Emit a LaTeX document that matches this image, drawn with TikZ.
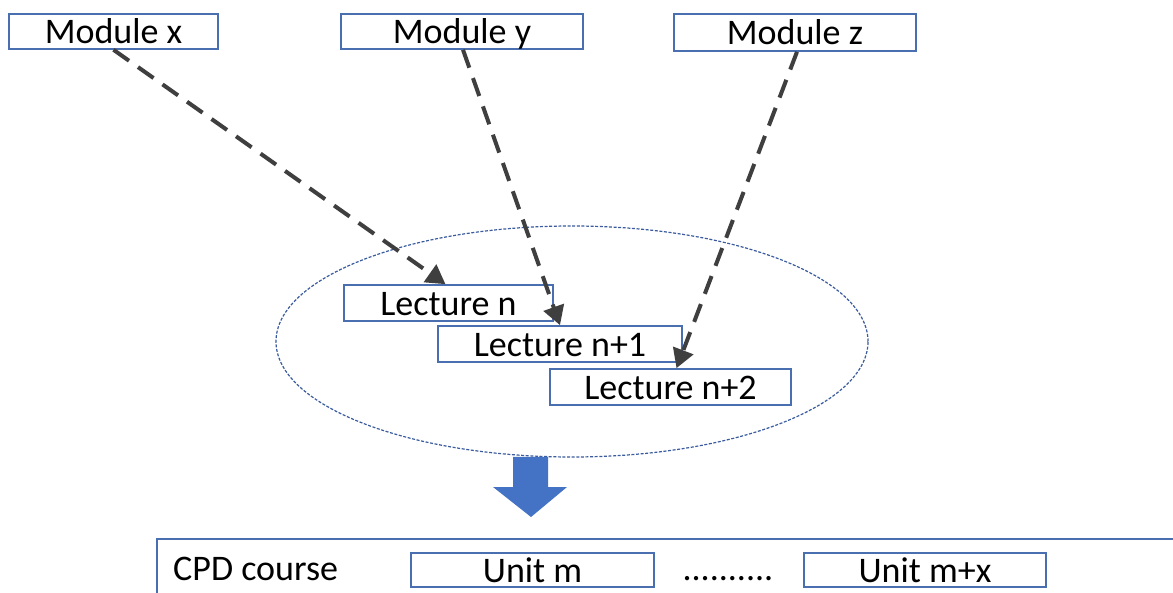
\documentclass[tikz,border=0pt]{standalone}
\usepackage{fontspec}
\setmainfont{Carlito}
\usetikzlibrary{arrows.meta,shapes.geometric}
\definecolor{boxblue}{HTML}{4A6FB0}
\definecolor{ellblue}{HTML}{3A5C9E}
\definecolor{arrowfill}{HTML}{4472C4}
\definecolor{dashgray}{HTML}{3F3F3F}
\tikzset{
  modbox/.style={draw=boxblue, line width=1.6pt, inner sep=0pt, minimum width=242pt, minimum height=36pt,
    font=\fontsize{36}{40}\selectfont, text height=25pt, text depth=0pt},
  dasharrow/.style={draw=dashgray, line width=4pt, dash pattern=on 19pt off 11pt,
    -{Triangle[length=19pt,width=21pt]}},
  groupell/.style={ellipse, draw=ellblue, line width=1.2pt, dash pattern=on 3pt off 1.6pt,
    minimum width=592pt, minimum height=231pt, inner sep=0pt},
  plain/.style={font=\fontsize{36}{40}\selectfont, inner sep=0pt, text height=25pt, text depth=0pt}
}
\begin{document}
\begin{tikzpicture}[x=1pt,y=-1pt]
\clip (0,0) rectangle (1173,593);
\fill[white] (0,0) rectangle (1173,593);

% modules
\node[modbox, minimum width=209pt, minimum height=35pt] (mx) at (113.5,31.5) {Module x};
\node[modbox, minimum height=35pt] (my) at (462,31.5) {Module y};
\node[modbox, minimum height=37pt] (mz) at (795,32.5) {Module z};

% group ellipse
\node[groupell] (grp) at (572,341.5) {};

% lectures
\node[modbox, minimum width=209pt] (ln) at (448.5,303) {Lecture n};
\node[modbox, minimum width=244pt] (ln1) at (560,344) {Lecture n+1};
\node[modbox, minimum width=241pt] (ln2) at (670.5,387) {Lecture n+2};

% dashed arrows
\draw[dasharrow] (mx.south) -- ([xshift=-3pt]ln.north);
\draw[dasharrow] ([xshift=1pt]my.south) -- (ln1.north);
\draw[dasharrow] ([xshift=2pt]mz.south) -- ([xshift=6pt]ln2.north);

% blue block arrow
\fill[arrowfill] (513,457) -- (548,457) -- (548,487) -- (567,487) -- (531,517) -- (493,487) -- (513,487) -- cycle;

% CPD course frame
\draw[draw=boxblue, line width=1.6pt] (157,605) -- (157,539) -- (1190,539) -- (1190,605);
\node[plain, anchor=west] (cpd) at (173,567.5) {CPD course};
\node[modbox, minimum height=34pt, minimum width=243pt] (um) at (532.5,570) {Unit m};
\node[plain] (dots) at (728,567.5) {..........};
\node[modbox, minimum height=34pt] (umx) at (925,570) {Unit m+x};
\end{tikzpicture}
\end{document}
